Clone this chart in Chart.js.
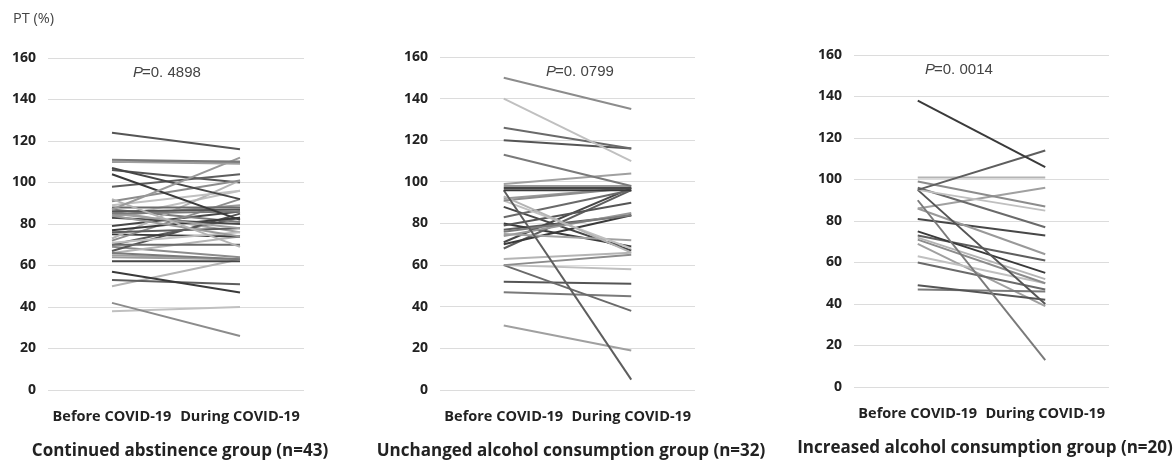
<!DOCTYPE html>
<html>
<head>
<meta charset="utf-8">
<script src="https://cdn.jsdelivr.net/npm/chart.js@4.4.1/dist/chart.umd.min.js"></script>
<style>
  html, body { margin: 0; padding: 0; background: #fff; }
  #wrap { position: relative; width: 1176px; height: 463px; overflow: hidden; }
  .panel { position: absolute; top: 0; height: 463px; }
</style>
</head>
<body>
<div id="wrap">
  <div class="panel" id="p1" style="left:0px;width:360px"><canvas id="c1"></canvas></div>
  <div class="panel" id="p2" style="left:371px;width:400px"><canvas id="c2"></canvas></div>
  <div class="panel" id="p3" style="left:795px;width:380px"><canvas id="c3"></canvas></div>
</div>
<script>
// --- data ---
const categories = ['Before COVID-19', 'During COVID-19'];
const yAxisTitle = 'PT (%)';

const groupTitles = [
  'Continued abstinence group (n=43)',
  'Unchanged alcohol consumption group (n=32)',
  'Increased alcohol consumption group (n=20)'
];
const pValues = ['0. 4898', '0. 0799', '0. 0014'];

// continued abstinence (43 subjects)
const abstBefore = [124, 111, 110, 87, 107, 104, 98, 92, 91, 89, 88, 86, 85, 85, 84, 83, 77, 76, 73, 72, 71, 70, 67, 66, 65, 64, 62, 57, 53, 50, 42, 38, 110, 106, 87, 86, 84, 79, 75, 70, 66, 69, 83];
const abstDuring = [116, 110, 109, 112, 92, 82, 104, 69, 101, 96, 88, 87, 86, 78, 74, 80, 83, 78, 101, 92, 76, 70, 85, 63, 63, 63, 62, 47, 51, 63, 26, 40, 110, 100, 81, 76, 89, 86, 74, 83, 74, 64, 96];

// unchanged consumption (32 subjects)
const unchBefore = [150, 140, 126, 120, 113, 99, 98, 97, 96, 96, 93, 91, 91, 83, 79, 76, 75, 74, 71, 70, 68, 63, 60, 60, 60, 52, 47, 31, 92, 88, 80, 77];
const unchDuring = [135, 110, 116, 116, 98, 104, 98, 97, 96, 5, 66, 97, 68, 96, 90, 84, 72, 85, 97, 84, 96, 66, 65, 58, 38, 51, 45, 19, 97, 67, 69, 84];

// increased consumption (20 subjects)
const incrBefore = [138, 95, 101, 99, 95, 96, 95, 90, 86, 86, 81, 75, 73, 72, 71, 63, 60, 49, 47, 69];
const incrDuring = [106, 114, 101, 87, 85, 77, 40, 13, 96, 64, 73, 55, 61, 52, 50, 50, 47, 42, 46, 39];

// --- styles ---
const grays = ['#555555', '#8c8c8c', '#3a3a3a', '#a0a0a0', '#6a6a6a', '#b4b4b4', '#474747', '#7a7a7a', '#c0c0c0', '#5e5e5e', '#999999'];
const FONT = "'Open Sans', 'Noto Sans', sans-serif";

const panels = [
  { id: 'c1', before: abstBefore, during: abstDuring, yWidth: 48, right: 56, top: 58, bottom: 2, pDx: 85, pDy: 15, showUnit: true },
  { id: 'c2', before: unchBefore, during: unchDuring, yWidth: 69, right: 76, top: 57, bottom: 2, pDx: 106, pDy: 15, showUnit: false },
  { id: 'c3', before: incrBefore, during: incrDuring, yWidth: 59, right: 66, top: 55, bottom: 5, pDx: 71, pDy: 15, showUnit: false }
];

// P value label + unit label drawn on top of the chart area
const annotPlugin = {
  id: 'annot',
  afterDraw(chart, args, opts) {
    const ctx = chart.ctx;
    const area = chart.chartArea;
    ctx.save();
    ctx.fillStyle = '#444';
    ctx.textBaseline = 'middle';
    let x = area.left + opts.dx;
    const y = area.top + opts.dy;
    ctx.font = "italic 15px 'Liberation Sans Narrow', 'Liberation Sans', sans-serif";
    ctx.fillText('P', x, y);
    x += ctx.measureText('P').width - 1;
    ctx.font = "15px 'Liberation Sans Narrow', 'Liberation Sans', sans-serif";
    ctx.fillText('=' + opts.p, x, y);
    if (opts.unit) {
      ctx.font = '14.5px ' + FONT;
      ctx.fillStyle = '#444';
      ctx.textBaseline = 'middle';
      ctx.fillText(yAxisTitle, 13, 19);
    }
    ctx.restore();
  }
};

panels.forEach((p, k) => {
  const datasets = p.before.map((b, i) => ({
    data: [b, p.during[i]],
    borderColor: grays[(i * 7 + k) % grays.length],
    borderWidth: 2,
    pointRadius: 0,
    tension: 0,
    fill: false
  }));

  new Chart(document.getElementById(p.id), {
    type: 'line',
    data: { labels: categories, datasets },
    plugins: [annotPlugin],
    options: {
      responsive: true,
      maintainAspectRatio: false,
      animation: false,
      layout: { padding: { top: p.top, right: 0, bottom: p.bottom, left: 0 } },
      plugins: {
        legend: { display: false },
        tooltip: { enabled: false },
        title: {
          display: true,
          position: 'bottom',
          text: groupTitles[k],
          color: '#222',
          font: { family: FONT, size: 17, weight: 'bold', lineHeight: 1.2 },
          padding: { top: 0, bottom: 0 }
        },
        annot: { p: pValues[k], dx: p.pDx, dy: p.pDy, unit: p.showUnit }
      },
      scales: {
        x: {
          offset: true,
          grid: { display: false, drawTicks: false },
          border: { display: false },
          ticks: { color: '#222', padding: 18, maxRotation: 0, autoSkip: false,
                   font: { family: FONT, size: 14.5, weight: 'bold' } },
          afterFit: (s) => { s.height = 50.6; }
        },
        y: {
          min: 0,
          max: 160,
          grid: { color: '#dcdcdc', lineWidth: 1, drawTicks: false },
          border: { display: false },
          ticks: { stepSize: 20, color: '#222', padding: 12,
                   font: { family: FONT, size: 14, weight: 'bold' } },
          afterFit: (s) => { s.width = p.yWidth; }
        },
        // empty spacer on the right so the plot keeps its width
        yRight: {
          position: 'right',
          min: 0,
          max: 160,
          grid: { display: false, drawTicks: false },
          border: { display: false },
          ticks: { display: false },
          afterFit: (s) => { s.width = p.right; }
        }
      }
    }
  });
});
</script>
</body>
</html>
